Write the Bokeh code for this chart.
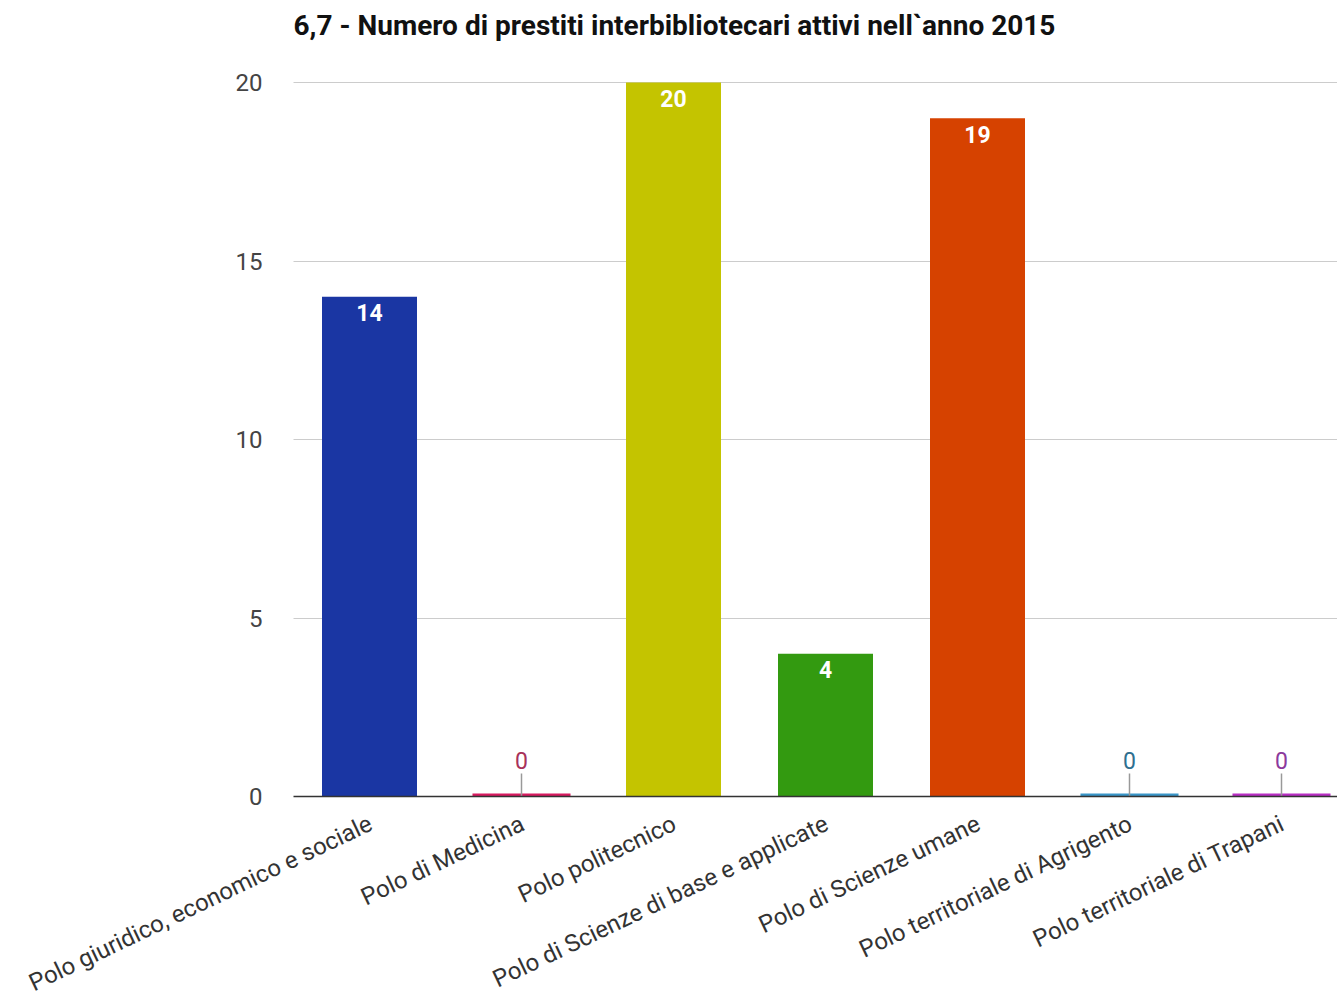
import math
from bokeh.plotting import figure
from bokeh.models import Range1d, FixedTicker, ColumnDataSource, Grid
from bokeh.core.properties import value
from bokeh.embed import file_html
from bokeh.resources import INLINE

categories = [
    "Polo giuridico, economico e sociale",
    "Polo di Medicina",
    "Polo politecnico",
    "Polo di Scienze di base e applicate",
    "Polo di Scienze umane",
    "Polo territoriale di Agrigento",
    "Polo territoriale di Trapani",
]
values = [14, 0, 20, 4, 19, 0, 0]
bar_colors = ["#1a36a3", "#d81b60", "#c4c400", "#339a10", "#d64200", "#3a96c8", "#b92fc4"]
zero_label_colors = ["#1a36a3", "#a8325a", "#c4c400", "#339a10", "#d64200", "#2f6f8f", "#8c3a9c"]
y_ticks = [0, 5, 10, 15, 20]
y_tick_labels = ["0", "5", "10", "15", "20"]
title_text = "6,7 - Numero di prestiti interbibliotecari attivi nell`anno 2015"

# ---- layout constants (pixels) ----
W, H = 1337, 998
PLOT_LEFT = 293      # left edge of plotting area
PLOT_TOP = 82        # y of the top value (20)
PLOT_BOTTOM = 796    # y of the baseline (0)
BAND = 152           # px per category
TITLE_Y = 25         # vertical centre of title
y_max = max(y_ticks)

px_per_unit = (PLOT_BOTTOM - PLOT_TOP) / y_max
y_start = -(H - PLOT_BOTTOM) / px_per_unit
y_end = PLOT_BOTTOM / px_per_unit
x_first_center = PLOT_LEFT + BAND / 2
x_start = -x_first_center / BAND
x_end = (W - x_first_center) / BAND
x_left = -0.5                     # data x of plotting-area left edge
title_y = (PLOT_BOTTOM - TITLE_Y) / px_per_unit

xs = list(range(len(categories)))
pos = [i for i, v in enumerate(values) if v > 0]
zer = [i for i, v in enumerate(values) if v == 0]

ZERO_BAR_PX = 3
STEM_PX = 23
zero_thick = ZERO_BAR_PX / px_per_unit
stem_len = STEM_PX / px_per_unit

src_pos = ColumnDataSource(dict(x=[xs[i] for i in pos], top=[values[i] for i in pos],
                                color=[bar_colors[i] for i in pos],
                                label=[str(values[i]) for i in pos]))
src_zero = ColumnDataSource(dict(x=[xs[i] for i in zer], y=[values[i] for i in zer],
                                 ytop=[values[i] + zero_thick for i in zer],
                                 ystem=[values[i] + stem_len for i in zer],
                                 color=[bar_colors[i] for i in zer],
                                 lcolor=[zero_label_colors[i] for i in zer],
                                 label=[str(values[i]) for i in zer]))
src_cat = ColumnDataSource(dict(x=xs, y=[0] * len(xs), text=categories))
src_yt = ColumnDataSource(dict(x=[x_left] * len(y_ticks), y=y_ticks, text=y_tick_labels))

p = figure(width=W, height=H, output_backend="svg", toolbar_location=None,
           x_range=Range1d(x_start, x_end), y_range=Range1d(y_start, y_end),
           x_axis_location=None, y_axis_location=None,
           min_border_left=0, min_border_right=0, min_border_top=0, min_border_bottom=0)
p.outline_line_color = None
p.background_fill_color = "white"
p.border_fill_color = "white"
p.xgrid.grid_line_color = None
p.ygrid.grid_line_color = None

# horizontal gridlines, limited to the plotting area
grid = Grid(dimension=1, ticker=FixedTicker(ticks=[t for t in y_ticks if t != 0]),
            cross_bounds=(x_left, x_end), grid_line_color="#cccccc", grid_line_width=1)
p.add_layout(grid, "center")

# bars
p.vbar(x="x", top="top", bottom=0, width=0.625, fill_color="color", line_color=None, source=src_pos)
p.vbar(x="x", top="ytop", bottom="y", width=0.645, fill_color="color", line_color=None, source=src_zero)

# baseline
base = Grid(dimension=1, ticker=FixedTicker(ticks=[0]), cross_bounds=(x_left, x_end),
            grid_line_color="#333333", grid_line_width=1.5, level="overlay")
p.add_layout(base, "center")

p.segment(x0="x", y0="y", x1="x", y1="ystem", line_color="#999999", line_width=1.5, source=src_zero)

# value labels
p.text(x="x", y="top", text="label", source=src_pos, text_color="white",
       text_font=value("Roboto"), text_font_style="bold", text_font_size="23px",
       text_align="center", text_baseline="middle", y_offset=16)
p.text(x="x", y="y", text="label", source=src_zero, text_color="lcolor",
       text_font=value("Roboto"), text_font_size="23px",
       text_align="center", text_baseline="middle", y_offset=-36)

# y tick labels
p.text(x="x", y="y", text="text", source=src_yt, text_color="#444444",
       text_font=value("Roboto"), text_font_size="24px",
       text_align="right", text_baseline="middle", x_offset=-31)

# slanted category labels
p.text(x="x", y="y", text="text", source=src_cat, text_color="#333333",
       text_font=value("Roboto"), text_font_size="24px",
       angle=math.radians(25.5), text_align="right", text_baseline="top",
       x_offset=-5, y_offset=13)

# title
p.text(x=[x_left], y=[title_y], text=[title_text], text_color="#111111",
       text_font=value("Roboto"), text_font_style="bold", text_font_size="28px",
       text_align="left", text_baseline="middle")

open("out.html", "w").write(file_html(p, INLINE))
